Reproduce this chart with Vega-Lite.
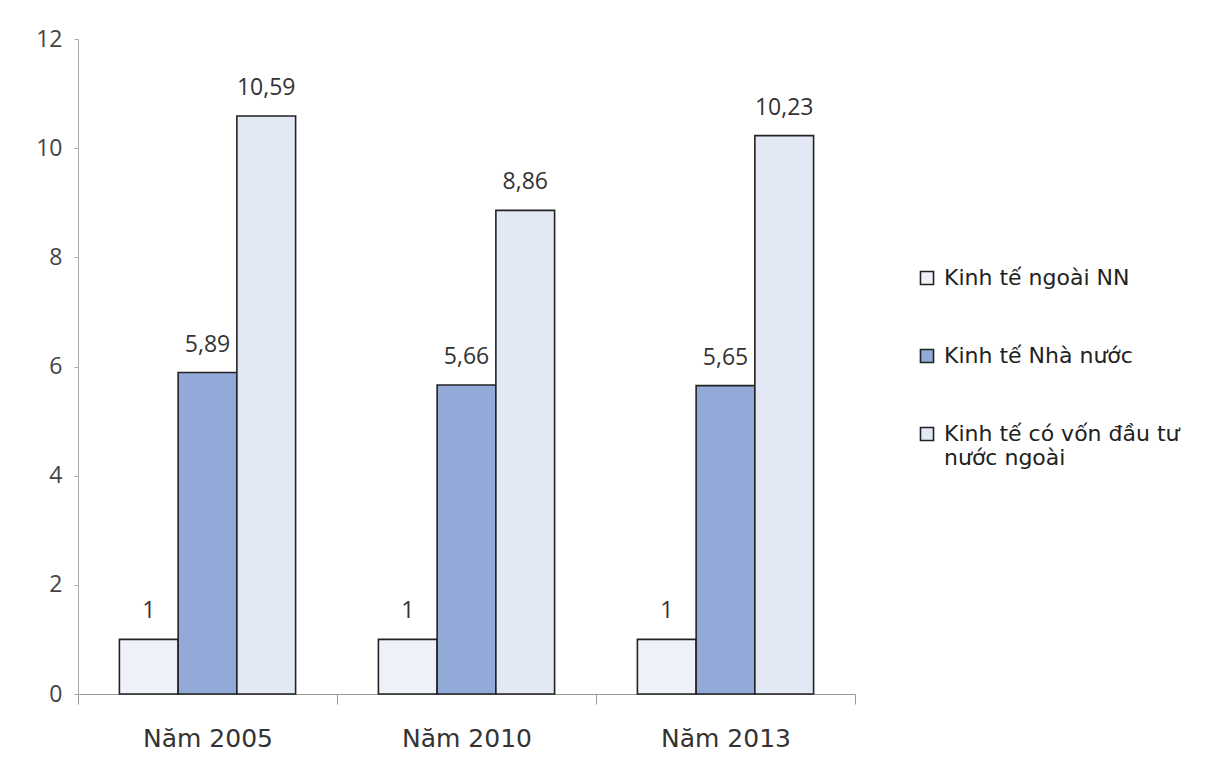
{
  "$schema": "https://vega.github.io/schema/vega-lite/v6.json",
  "autosize": "none",
  "width": 777,
  "height": 655,
  "padding": {"left": 78, "top": 39, "right": 374, "bottom": 65},
  "background": "white",
  "data": {
    "values": [
      {"nam": "Năm 2005", "loai": "Kinh tế ngoài NN", "giatri": 1},
      {"nam": "Năm 2005", "loai": "Kinh tế Nhà nước", "giatri": 5.89},
      {"nam": "Năm 2005", "loai": "Kinh tế có vốn đầu tư nước ngoài", "giatri": 10.59},
      {"nam": "Năm 2010", "loai": "Kinh tế ngoài NN", "giatri": 1},
      {"nam": "Năm 2010", "loai": "Kinh tế Nhà nước", "giatri": 5.66},
      {"nam": "Năm 2010", "loai": "Kinh tế có vốn đầu tư nước ngoài", "giatri": 8.86},
      {"nam": "Năm 2013", "loai": "Kinh tế ngoài NN", "giatri": 1},
      {"nam": "Năm 2013", "loai": "Kinh tế Nhà nước", "giatri": 5.65},
      {"nam": "Năm 2013", "loai": "Kinh tế có vốn đầu tư nước ngoài", "giatri": 10.23}
    ]
  },
  "encoding": {
    "x": {
      "field": "nam", "type": "nominal", "sort": null,
      "scale": {"paddingInner": 0, "paddingOuter": 0},
      "axis": {
        "title": null, "labelAngle": 0, "labelFontSize": 25, "labelColor": "#333",
        "labelPadding": 22, "tickBand": "extent", "tickSize": 10, "domainColor": "#999",
        "tickColor": "#999", "labelFont": "DejaVu Sans"
      }
    },
    "xOffset": {
      "field": "loai", "type": "nominal",
      "sort": ["Kinh tế ngoài NN", "Kinh tế Nhà nước", "Kinh tế có vốn đầu tư nước ngoài"],
      "scale": {"paddingInner": 0, "paddingOuter": 0.705}
    },
    "y": {
      "field": "giatri", "type": "quantitative",
      "scale": {"domain": [0, 12], "nice": false},
      "axis": {
        "title": null, "values": [0, 2, 4, 6, 8, 10, 12], "format": "d", "grid": false,
        "labelFontSize": 23, "labelColor": "#444", "labelPadding": 12, "tickSize": 4,
        "domainColor": "#aaa", "tickColor": "#aaa", "labelFont": "Open Sans"
      }
    }
  },
  "layer": [
    {
      "mark": {"type": "bar", "stroke": "#222", "strokeWidth": 1.6},
      "encoding": {
        "fill": {
          "field": "loai", "type": "nominal",
          "sort": ["Kinh tế ngoài NN", "Kinh tế Nhà nước", "Kinh tế có vốn đầu tư nước ngoài"],
          "scale": {"range": ["#eef2f8", "#93a9d8", "#e2e9f4"]},
          "legend": {
            "title": null, "orient": "none", "legendX": 838, "legendY": 228,
            "symbolType": "square", "symbolSize": 170, "symbolStrokeColor": "#222",
            "symbolStrokeWidth": 1.6, "labelFontSize": 22, "labelColor": "#222",
            "labelFont": "DejaVu Sans", "rowPadding": 56, "labelOffset": 6,
            "labelLimit": 320,
            "labelExpr": "datum.label == 'Kinh tế có vốn đầu tư nước ngoài' ? ['Kinh tế có vốn đầu tư', 'nước ngoài'] : datum.label"
          }
        }
      }
    },
    {
      "mark": {"type": "text", "baseline": "bottom", "dy": -16, "fontSize": 23, "color": "#333", "font": "Open Sans"},
      "encoding": {
        "text": {"field": "giatri", "type": "quantitative", "format": ".2~f"}
      }
    }
  ],
  "config": {
    "view": {"stroke": null},
    "locale": {
      "number": {"decimal": ",", "thousands": ".", "grouping": [3], "currency": ["", ""]}
    }
  }
}
